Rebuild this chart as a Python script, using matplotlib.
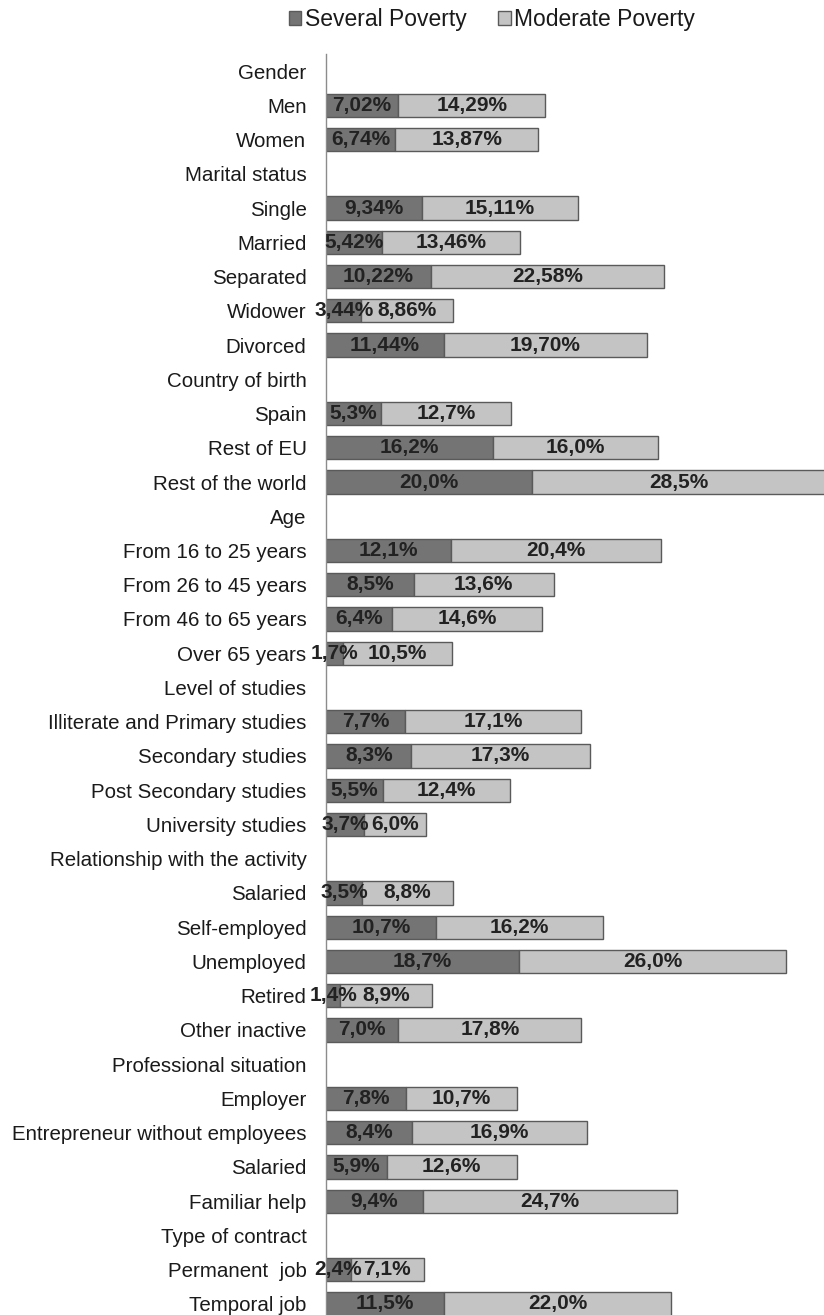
import numpy as np
import matplotlib
matplotlib.use('Agg')
import matplotlib.pyplot as plt
from matplotlib.patches import Patch

plt.rcParams['font.family'] = ['Liberation Sans', 'DejaVu Sans']

# categorias (las cabeceras de grupo no llevan barra)
categories = ['Gender', 'Men', 'Women',
              'Marital status', 'Single', 'Married', 'Separated', 'Widower', 'Divorced',
              'Country of birth', 'Spain', 'Rest of EU', 'Rest of the world',
              'Age', 'From 16 to 25 years', 'From 26 to 45 years', 'From 46 to 65 years', 'Over 65 years',
              'Level of studies', 'Illiterate and Primary studies', 'Secondary studies',
              'Post Secondary studies', 'University studies',
              'Relationship with the activity', 'Salaried', 'Self-employed', 'Unemployed',
              'Retired', 'Other inactive',
              'Professional situation', 'Employer', 'Entrepreneur without employees',
              'Salaried', 'Familiar help',
              'Type of contract', 'Permanent  job', 'Temporal job']

several = [None, 7.02, 6.74,
           None, 9.34, 5.42, 10.22, 3.44, 11.44,
           None, 5.3, 16.2, 20.0,
           None, 12.1, 8.5, 6.4, 1.7,
           None, 7.7, 8.3, 5.5, 3.7,
           None, 3.5, 10.7, 18.7, 1.4, 7.0,
           None, 7.8, 8.4, 5.9, 9.4,
           None, 2.4, 11.5]

moderate = [None, 14.29, 13.87,
            None, 15.11, 13.46, 22.58, 8.86, 19.70,
            None, 12.7, 16.0, 28.5,
            None, 20.4, 13.6, 14.6, 10.5,
            None, 17.1, 17.3, 12.4, 6.0,
            None, 8.8, 16.2, 26.0, 8.9, 17.8,
            None, 10.7, 16.9, 12.6, 24.7,
            None, 7.1, 22.0]

# decimales que usa cada etiqueta
decimals = [0, 2, 2, 0, 2, 2, 2, 2, 2] + [1] * 28

def fmt(v, d):
    return ('%.*f' % (d, v)).replace('.', ',') + '%'

y = np.arange(len(categories))
sev = np.array([np.nan if v is None else v for v in several])
mod = np.array([np.nan if v is None else v for v in moderate])

fig = plt.figure(figsize=(8.24, 13.15), dpi=100)
ax = fig.add_axes([0.3956, -0.0046, 0.6044, 0.9636])

c_sev = '#747474'
c_mod = '#c4c4c4'
edge = '#5a5a5a'

ax.barh(y, sev, height=0.68, color=c_sev, edgecolor=edge, linewidth=1)
ax.barh(y, mod, left=sev, height=0.68, color=c_mod, edgecolor=edge, linewidth=1)

for i in y:
    if np.isnan(sev[i]):
        continue
    ax.text(sev[i] / 2, i, fmt(sev[i], decimals[i]), ha='center', va='center',
            fontsize=15, fontweight='bold', color='#222222')
    ax.text(sev[i] + mod[i] / 2, i, fmt(mod[i], decimals[i]), ha='center', va='center',
            fontsize=15, fontweight='bold', color='#222222')

ax.set_xlim(0, 48.35)
ax.set_ylim(len(categories) - 0.5, -0.5)
ax.set_yticks(y)
ax.set_yticklabels(categories, fontsize=14.8, color='#1a1a1a')
ax.tick_params(axis='y', length=0, pad=14)
ax.set_xticks([])
for s in ['top', 'right', 'bottom']:
    ax.spines[s].set_visible(False)
ax.spines['left'].set_color('#8c8c8c')
ax.spines['left'].set_linewidth(1)

handles = [Patch(facecolor=c_sev, edgecolor=edge, label='Several Poverty'),
           Patch(facecolor=c_mod, edgecolor=edge, label='Moderate Poverty')]
fig.legend(handles=handles, loc='center', bbox_to_anchor=(0.597, 0.985), ncol=2,
           frameon=False, fontsize=16.5, handlelength=0.55, handleheight=0.55,
           handletextpad=0.15, columnspacing=1.4, labelcolor='#1a1a1a')

fig.savefig('out.png', dpi=100)
